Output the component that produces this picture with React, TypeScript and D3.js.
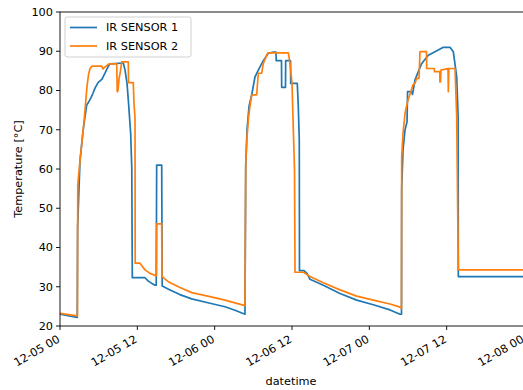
import { useEffect, useRef } from 'react';
import * as d3 from 'd3';

// hours after 2020-12-05 00:00 and readings in °C
const SENSOR1_HOURS = [
  0, 2.68, 2.73, 3.1, 3.6, 4.14, 4.35, 4.76, 5.12, 5.43, 5.9, 6.52, 6.98, 7.5, 7.76, 9.82, 10.09, 10.4, 10.6, 10.97,
  11.14, 11.22, 13.19, 13.66, 14.28, 14.74, 14.93, 15.0, 15.78, 15.86, 17.07, 18.6, 20.44, 23.28, 25.6, 27.16, 28.7,
  28.82, 29.02, 29.33, 29.75, 30.26, 30.77, 31.55, 32.32, 33.1, 33.52, 33.55, 34.37, 34.4, 34.99, 35.02, 35.77, 35.8,
  36.82, 36.98, 37.13, 37.16, 37.86, 38.33, 38.79, 40.86, 43.45, 46.04, 48.62, 51.21, 52.76, 52.99, 53.02, 53.23,
  53.54, 53.85, 53.93, 54.57, 54.7, 55.09, 55.6, 56.13, 57.15, 58.19, 59.48, 60.52, 61.03, 61.56, 61.78, 61.81, 72,
];
const SENSOR1_TEMP = [
  23.0, 22.2, 45, 62, 70, 76.3, 76.8, 78, 79.3, 80.6, 82, 82.9, 84.4, 86.2, 86.8, 87, 85.2, 81.8, 77.6, 69,
  60, 32.3, 32.3, 31.5, 30.8, 30.4, 30.4, 61, 61, 30.2, 29.2, 28.0, 26.9, 25.8, 24.9, 24.0, 23.0,
  60.6, 70, 76, 78.9, 83.5, 85.2, 87.6, 89.5, 89.8, 89.8, 87.6, 87.6, 80.8, 80.8, 87.6, 87.6, 81.8,
  81.8, 75.9, 67.4, 34.1, 34.1, 33.4, 31.9, 30.4, 28.3, 26.6, 25.4, 24.1, 23.0, 23.0, 55, 65,
  70, 72, 79.7, 79.7, 79.0, 82.7, 84.8, 86.9, 89, 89.9, 91, 91, 89.9, 83.5, 73.3, 32.6, 32.6,
];

const SENSOR2_HOURS = [
  0, 2.7, 2.76, 3.1, 3.41, 3.72, 4.19, 4.42, 4.66, 4.97, 6.47, 6.67, 7.14, 7.6, 8.8, 8.88, 9.0, 9.16, 9.39, 9.57,
  10.6, 10.63, 11.37, 11.48, 11.64, 11.67, 12.41, 13.19, 13.97, 14.85, 14.97, 15.0, 15.78, 15.83, 16.8, 18.62, 20.44,
  23.28, 25.6, 28.7, 28.82, 29.02, 29.25, 29.48, 29.75, 30.52, 30.77, 31.3, 31.55, 32.07, 32.28, 35.43, 35.69, 36.0,
  36.16, 36.39, 36.47, 37.77, 38.79, 40.86, 43.45, 46.04, 48.62, 51.21, 52.76, 52.99, 53.02, 53.23, 53.54, 54.0,
  54.45, 54.76, 55.07, 55.35, 55.71, 55.86, 56.87, 56.9, 58.08, 58.11, 58.93, 58.96, 59.04, 59.12, 60.21, 60.26,
  60.34, 61.3, 61.56, 61.81, 72,
];
const SENSOR2_TEMP = [
  23.2, 22.6, 56, 62, 67, 72, 81, 84, 85.6, 86.2, 86.2, 85.5, 86.2, 86.8, 86.8, 79.7, 80, 83, 85, 87.3,
  87.3, 82, 82, 76.7, 73, 36, 36, 34.3, 33.4, 32.8, 32.8, 46, 46, 32.6, 31.3, 29.8, 28.5,
  27.5, 26.6, 25.2, 61.5, 68, 73, 76, 78.9, 78.9, 84.4, 84.4, 86.9, 89, 89.6, 89.6, 86.9, 81.8,
  72.5, 60, 33.7, 33.7, 32.6, 31, 29.2, 27.6, 26.6, 25.6, 24.8, 24.5, 63, 69.1, 74.2, 77.6,
  79.7, 81.4, 81.8, 83.1, 83.1, 89.9, 89.9, 85.6, 85.6, 84.8, 84.8, 82.2, 82.2, 85.2, 85.6, 79.7,
  85.6, 85.6, 73.3, 34.3, 34.3,
];

const SERIES_NAMES = ['IR SENSOR 1', 'IR SENSOR 2'];
const SERIES_COLORS = ['#1f77b4', '#ff7f0e'];
const X_TICK_HOURS = [0, 12, 24, 36, 48, 60, 72];
const Y_TICKS = [20, 30, 40, 50, 60, 70, 80, 90, 100];

const WIDTH = 523;
const HEIGHT = 390;
const MARGIN = { top: 12, right: -1, bottom: 64, left: 60 };
const START = Date.UTC(2020, 11, 5, 0, 0);
const FONT = 'DejaVu Sans, sans-serif';
const FS = 11.3;

const toDate = (h: number) => new Date(START + h * 3600 * 1000);

export default function App() {
  const svgRef = useRef<SVGSVGElement>(null);

  useEffect(() => {
    if (!svgRef.current) return;
    const W = WIDTH - MARGIN.left - MARGIN.right;
    const H = HEIGHT - MARGIN.top - MARGIN.bottom;

    const svg = d3.select(svgRef.current);
    svg.selectAll('*').remove();
    svg.attr('width', WIDTH).attr('height', HEIGHT);

    const g = svg.append('g').attr('transform', `translate(${MARGIN.left},${MARGIN.top})`);

    const x = d3.scaleUtc().domain([toDate(0), toDate(72)]).range([0, W]);
    const y = d3.scaleLinear().domain([20, 100]).range([H, 0]);

    // clip for lines
    svg.append('defs').append('clipPath').attr('id', 'plot-clip')
      .append('rect').attr('width', W).attr('height', H);

    const line = d3.line<[number, number]>()
      .x(d => x(toDate(d[0])))
      .y(d => y(d[1]));

    const series = [
      d3.zip(SENSOR1_HOURS, SENSOR1_TEMP) as [number, number][],
      d3.zip(SENSOR2_HOURS, SENSOR2_TEMP) as [number, number][],
    ];
    series.forEach((pts, i) => {
      g.append('path')
        .datum(pts)
        .attr('clip-path', 'url(#plot-clip)')
        .attr('fill', 'none')
        .attr('stroke', SERIES_COLORS[i])
        .attr('stroke-width', 1.7)
        .attr('stroke-linejoin', 'round')
        .attr('d', line);
    });

    // spines
    g.append('rect')
      .attr('width', W).attr('height', H)
      .attr('fill', 'none').attr('stroke', '#000').attr('stroke-width', 0.9);

    // x ticks
    const fmt = d3.utcFormat('%m-%d %H');
    X_TICK_HOURS.forEach(h => {
      const px = x(toDate(h));
      g.append('line')
        .attr('x1', px).attr('x2', px).attr('y1', H).attr('y2', H + 4)
        .attr('stroke', '#000').attr('stroke-width', 0.9);
      g.append('text')
        .attr('transform', `translate(${px - 3.5},${H + 8}) rotate(-30)`)
        .attr('text-anchor', 'end')
        .attr('dy', '0.75em')
        .attr('font-family', FONT).attr('font-size', FS).attr('fill', '#000')
        .text(fmt(toDate(h)));
    });

    // y ticks
    Y_TICKS.forEach(v => {
      const py = y(v);
      g.append('line')
        .attr('x1', -4).attr('x2', 0).attr('y1', py).attr('y2', py)
        .attr('stroke', '#000').attr('stroke-width', 0.9);
      g.append('text')
        .attr('x', -7).attr('y', py).attr('dy', '0.35em')
        .attr('text-anchor', 'end')
        .attr('font-family', FONT).attr('font-size', FS).attr('fill', '#000')
        .text(v);
    });

    // axis labels
    svg.append('text')
      .attr('x', 291).attr('y', 385)
      .attr('text-anchor', 'middle')
      .attr('font-family', FONT).attr('font-size', FS).attr('fill', '#000')
      .text('datetime');
    svg.append('text')
      .attr('transform', `translate(22,${MARGIN.top + H / 2}) rotate(-90)`)
      .attr('text-anchor', 'middle')
      .attr('font-family', FONT).attr('font-size', FS).attr('fill', '#000')
      .text('Temperature [°C]');

    // legend
    const lg = g.append('g').attr('transform', 'translate(5,5)');
    lg.append('rect')
      .attr('width', 126).attr('height', 40).attr('rx', 2.5)
      .attr('fill', '#fff').attr('fill-opacity', 0.8)
      .attr('stroke', '#cccccc').attr('stroke-width', 0.9);
    SERIES_NAMES.forEach((name, i) => {
      const ly = 10.5 + i * 18.5;
      lg.append('line')
        .attr('x1', 5).attr('x2', 32).attr('y1', ly).attr('y2', ly)
        .attr('stroke', SERIES_COLORS[i]).attr('stroke-width', 1.7);
      lg.append('text')
        .attr('x', 41).attr('y', ly).attr('dy', '0.35em')
        .attr('font-family', FONT).attr('font-size', FS).attr('fill', '#000')
        .text(name);
    });
  }, []);

  return <svg ref={svgRef} style={{ position: 'absolute', left: 0, top: 0, display: 'block' }} />;
}
